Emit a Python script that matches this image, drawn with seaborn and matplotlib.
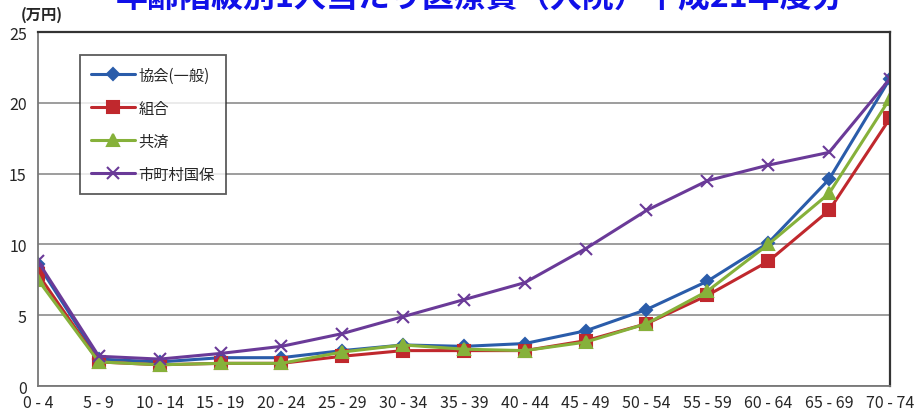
import pandas as pd
import matplotlib
matplotlib.use("Agg")
import matplotlib.pyplot as plt
import seaborn as sns

# age groups and per-capita inpatient cost (10k yen) for each insurer type
ages = ["0 - 4", "5 - 9", "10 - 14", "15 - 19", "20 - 24", "25 - 29", "30 - 34",
        "35 - 39", "40 - 44", "45 - 49", "50 - 54", "55 - 59", "60 - 64",
        "65 - 69", "70 - 74"]
kyokai = [8.6, 1.9, 1.7, 2.0, 2.0, 2.5, 2.9, 2.8, 3.0, 3.9, 5.4, 7.4, 10.1, 14.6, 21.7]
kumiai = [7.9, 1.7, 1.5, 1.6, 1.6, 2.1, 2.5, 2.5, 2.5, 3.2, 4.4, 6.4, 8.8, 12.4, 18.9]
kyosai = [7.5, 1.7, 1.5, 1.6, 1.6, 2.4, 2.9, 2.6, 2.5, 3.1, 4.4, 6.7, 10.0, 13.6, 20.3]
kokuho = [8.8, 2.1, 1.9, 2.3, 2.8, 3.7, 4.9, 6.1, 7.3, 9.7, 12.4, 14.5, 15.6, 16.5, 21.7]
series = ["協会(一般)", "組合", "共済", "市町村国保"]

df = pd.DataFrame({
    "age": ages * 4,
    "x": list(range(len(ages))) * 4,
    "value": kyokai + kumiai + kyosai + kokuho,
    "series": sum([[s] * len(ages) for s in series], []),
})

sns.set_style("white")
plt.rcParams["font.family"] = ["Noto Sans CJK JP", "DejaVu Sans"]

palette = {"協会(一般)": "#2a5caa", "組合": "#c0282d", "共済": "#86b13a", "市町村国保": "#6a3a98"}
markers = {"協会(一般)": "D", "組合": "s", "共済": "^", "市町村国保": "x"}
sizes = {"協会(一般)": 6.5, "組合": 8.5, "共済": 9, "市町村国保": 9}

fig = plt.figure(figsize=(9.24, 4.14), dpi=100)
ax = fig.add_axes([0.0411, 0.0652, 0.922, 0.855])

for s in series:
    sub = df[df["series"] == s]
    sns.lineplot(data=sub, x="x", y="value", ax=ax, color=palette[s], marker=markers[s],
                 markersize=sizes[s], markeredgecolor=palette[s], markeredgewidth=1.5,
                 linewidth=2.2, label=s)

ax.set_xlim(0, len(ages) - 1)
ax.set_ylim(0, 25)
ax.set_yticks([0, 5, 10, 15, 20, 25])
ax.set_xticks(range(len(ages)))
ax.set_xticklabels(ages)
ax.set_xlabel("")
ax.set_ylabel("")
ax.yaxis.grid(True, color="#8c8c8c", linewidth=1.2)
ax.set_axisbelow(True)
ax.tick_params(axis="x", direction="in", length=5, color="#777777", labelsize=11.5, pad=6)
ax.tick_params(axis="y", direction="out", length=6, color="#777777", labelsize=11.5, pad=2)
for side in ["left", "bottom"]:
    ax.spines[side].set_color("#777777")
    ax.spines[side].set_linewidth(1.3)
for side in ["right", "top"]:
    ax.spines[side].set_color("#333333")
    ax.spines[side].set_linewidth(1.6)

leg = ax.legend(loc="upper left", bbox_to_anchor=(0.049, 0.935), frameon=True, fancybox=False,
                edgecolor="#333333", fontsize=11, labelspacing=1.05, handlelength=2.9,
                handletextpad=0.2, borderpad=0.75, borderaxespad=0)
leg.get_frame().set_linewidth(1.3)

fig.text(0.022, 0.965, "(万円)", fontsize=11, fontweight="bold", va="center")
fig.text(0.52, 1.005, "年齢階級別1人当たり医療費（入院）平成21年度分", fontsize=23,
         fontweight="bold", color="#1010e8", ha="center", va="center")

fig.savefig("out.png", dpi=100)
